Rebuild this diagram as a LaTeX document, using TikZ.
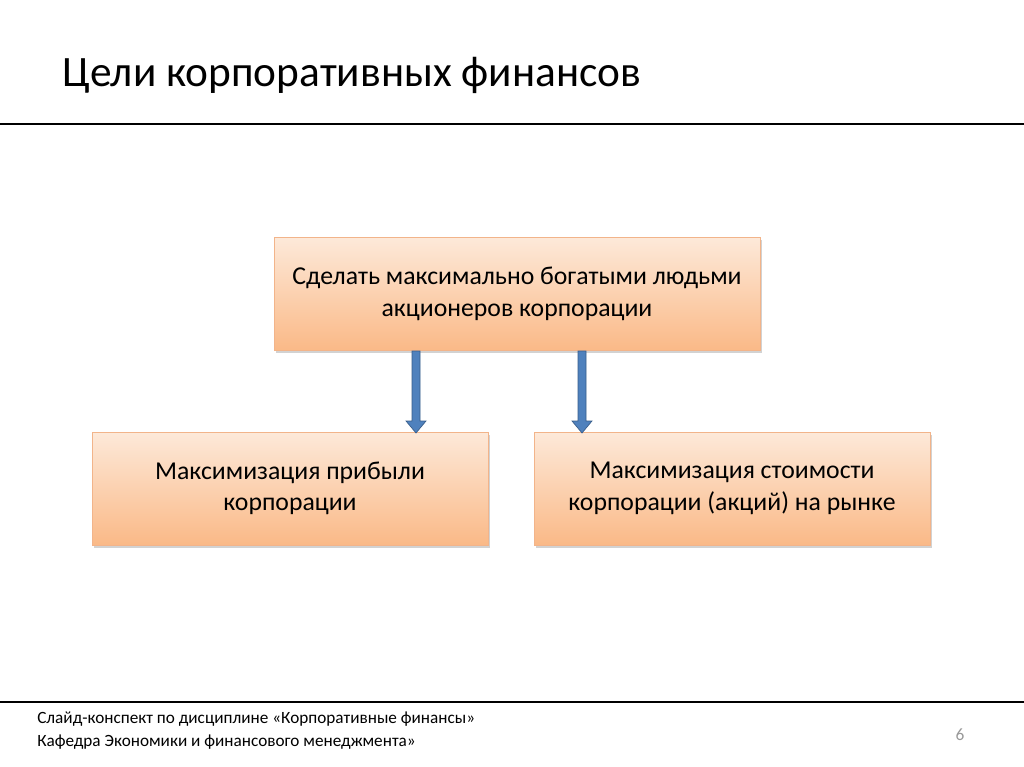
\documentclass[tikz,border=0pt]{standalone}
\usepackage{fontspec}
\setmainfont{Carlito}
\usetikzlibrary{shadows,arrows.meta}
\definecolor{boxtop}{HTML}{FDE9D9}
\definecolor{boxbot}{HTML}{FAB987}
\definecolor{boxline}{HTML}{F2B48A}
\definecolor{arrblue}{HTML}{4F81BD}
\definecolor{arrdark}{HTML}{385D8A}
\tikzset{
  goal/.style={draw=boxline, line width=0.6pt, top color=boxtop, bottom color=boxbot,
    minimum width=#1, minimum height=84.75pt, align=center, font=\fontsize{19.3}{23.5}\selectfont,
    drop shadow={shadow xshift=1.5pt, shadow yshift=-2pt, opacity=0.35}},
  goal/.default=364.5pt,
  bigarrow/.style={draw=arrdark, fill=arrblue, line width=0.5pt},
}
\begin{document}
\begin{tikzpicture}[x=0.75pt,y=-0.75pt]
\useasboundingbox (0,0) rectangle (1024,767);
\fill[white] (0,0) rectangle (1024,767);
\node[anchor=west, font=\fontsize{32.5}{36}\selectfont] (title) at (58,75) {Цели корпоративных финансов};
\draw[line width=1.5pt] (0,124) coordinate (t1) -- (1024,124) coordinate (t2);
\node[goal] (top) at (517,294) {Сделать максимально богатыми людьми\\акционеров корпорации};
\node[goal=297pt] (left) at (290,488.5) {Максимизация прибыли\\корпорации};
\node[goal=297pt] (right) at (732,488.5) {Максимизация стоимости\\корпорации (акций) на рынке};
\foreach \x in {416,582}{
  \draw[bigarrow] (\x-4,351) -- (\x+4,351) -- (\x+4,421) -- (\x+10,421) -- (\x,433) -- (\x-10,421) -- (\x-4,421) -- cycle;
}
\draw[line width=1.2pt] (0,702) coordinate (b1) -- (1024,702) coordinate (b2);
\node[anchor=north west, align=left, font=\fontsize{12.9}{17.2}\selectfont, inner sep=0pt] (foot) at (37,712)
  {Слайд-конспект по дисциплине «Корпоративные финансы»\\Кафедра Экономики и финансового менеджмента»};
\node[text=gray!80, font=\fontsize{13}{15}\selectfont] (num) at (960,735) {6};
\end{tikzpicture}
\end{document}
